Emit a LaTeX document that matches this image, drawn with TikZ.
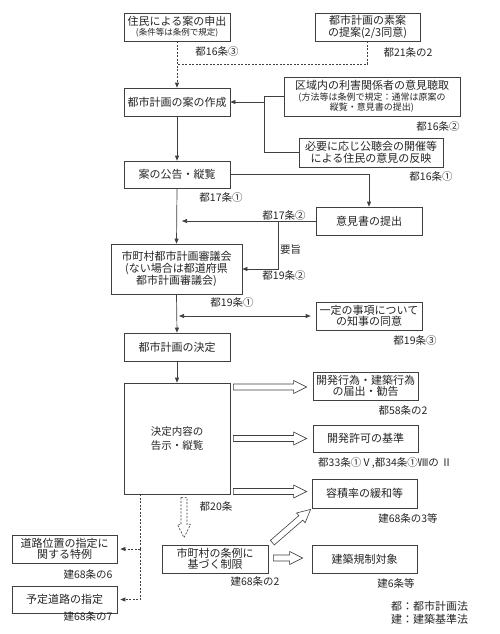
\documentclass[tikz,border=0pt]{standalone}
\usepackage{fontspec}
\setmainfont{Noto Sans CJK JP}
\usetikzlibrary{arrows.meta,calc}
\newcommand\harrow[3][]{%
  \draw[hollowarr,#1] let \p1=(#2), \p2=(#3),
    \n1={atan2(\y2-\y1,\x2-\x1)}, \n2={veclen(\x2-\x1,\y2-\y1)} in
    [shift={(\p1)}, rotate=\n1]
    (0pt,-3pt) -- ({\n2-13pt},-3pt) -- ({\n2-13pt},-6.5pt) -- ({\n2+0pt},0pt)
    -- ({\n2-13pt},6.5pt) -- ({\n2-13pt},3pt) -- (0pt,3pt) -- cycle;}
\begin{document}
\begin{tikzpicture}[x=1pt,y=-1pt,
  box/.style={draw=black!75, line width=0.7pt, fill=white, align=center, inner sep=1pt,
    text=black!85, font=\fontsize{11}{13}\selectfont},
  lbl/.style={font=\fontsize{10.5}{12}\selectfont, inner sep=0pt, text=black!85},
  ln/.style={draw=black!75, line width=0.7pt},
  arr/.style={ln, -{Triangle[length=5pt,width=4pt]}},
  dsh/.style={dash pattern=on 2pt off 1.5pt},
  hollowarr/.style={draw=black!75, line width=0.6pt, fill=white, line join=miter}]
\useasboundingbox[fill=white] (0,0) rectangle (500,634);

% boxes
\node[box, minimum width=106pt, minimum height=28pt] (b1) at (177,27)
  {住民による案の申出\\[-3pt]{\fontsize{8.5}{10}\selectfont (条件等は条例で規定)}};
\node[box, minimum width=105pt, minimum height=28pt] (b2) at (367.5,27)
  {都市計画の素案\\[-1pt]の提案(2/3同意)};
\node[box, minimum width=106pt, minimum height=28pt] (b3) at (177,102) {都市計画の案の作成};
\node[box, minimum width=176pt, minimum height=39pt] (b4) at (372,96.5)
  {区域内の利害関係者の意見聴取\\[-2pt]{\fontsize{9}{10}\selectfont (方法等は条例で規定：通常は原案の}\\[-3pt]{\fontsize{9}{10}\selectfont 縦覧・意見書の提出)}};
\node[box, minimum width=144pt, minimum height=29pt] (b5) at (371,152.5)
  {必要に応じ公聴会の開催等\\[-1pt]による住民の意見の反映};
\node[box, minimum width=106pt, minimum height=27pt] (b6) at (177,174.5) {案の公告・縦覧};
\node[box, minimum width=106pt, minimum height=28pt] (b7) at (369,221) {意見書の提出};
\node[box, minimum width=131pt, minimum height=50pt] (b8) at (176.5,269)
  {市町村都市計画審議会\\[-1pt](ない場合は都道府県\\[-1pt]都市計画審議会)};
\node[box, minimum width=106pt, minimum height=28pt] (b9) at (369,316)
  {一定の事項について\\[-2pt]の知事の同意};
\node[box, minimum width=106pt, minimum height=28pt] (b10) at (177,347) {都市計画の決定};
\node[box, minimum width=106pt, minimum height=111pt, font=\fontsize{10.5}{13}\selectfont] (b11) at (177,438.5)
  {決定内容の\\[1pt]告示・縦覧};
\node[box, minimum width=105pt, minimum height=28pt] (b12) at (365.5,386)
  {開発行為・建築行為\\[-2pt]の届出・勧告};
\node[box, minimum width=105pt, minimum height=27pt] (b13) at (365.5,438.5) {開発許可の基準};
\node[box, minimum width=105pt, minimum height=29pt] (b14) at (364.5,493.5) {容積率の緩和等};
\node[box, minimum width=105pt, minimum height=28pt] (b15) at (364.5,559) {建築規制対象};
\node[box, minimum width=106pt, minimum height=28pt] (b16) at (215,559)
  {市町村の条例に\\[-2pt]基づく制限};
\node[box, minimum width=105pt, minimum height=28pt] (b17) at (64.5,549)
  {道路位置の指定に\\[-2pt]関する特例};
\node[box, minimum width=105pt, minimum height=27pt] (b18) at (64.5,599.5) {予定道路の指定};

% labels
\node[lbl] (l1) at (217,52) {都16条③};
\node[lbl] (l2) at (408,52) {都21条の2};
\node[lbl] (l3) at (438,127) {都16条②};
\node[lbl] (l4) at (431,177) {都16条①};
\node[lbl] (l5) at (221,198) {都17条①};
\node[lbl] (l6) at (284,216) {都17条②};
\node[lbl, anchor=west] (l7) at (280,250) {要旨};
\node[lbl] (l8) at (284,276) {都19条②};
\node[lbl] (l9) at (232,303) {都19条①};
\node[lbl] (l10) at (415,341) {都19条③};
\node[lbl] (l11) at (403,410) {都58条の2};
\node[lbl] (l12) at (385,463) {都33条①Ⅴ,都34条①Ⅷの Ⅱ};
\node[lbl] (l13) at (408,518) {建68条の3等};
\node[lbl] (l14) at (396,583) {建6条等};
\node[lbl] (l15) at (216,506) {都20条};
\node[lbl] (l16) at (255,582) {建68条の2};
\node[lbl] (l17) at (88,575) {建68条の6};
\node[lbl] (l18) at (88,617) {建68条の7};
\node[lbl, anchor=west, font=\fontsize{11}{13}\selectfont] (lg1) at (391,606) {都：都市計画法};
\node[lbl, anchor=west, font=\fontsize{11}{13}\selectfont] (lg2) at (391,619) {建：建築基準法};

% junction coordinates
\coordinate (j0) at (177,64);
\coordinate (j1) at (264,102);
\coordinate (j2) at (182,221);
\coordinate (j3) at (278,221);
\coordinate (j4) at (179,316);
\coordinate (d0) at (140,494);

% top dashed connectors
\draw[arr,dsh] (b1.south) -- (b3.north);
\draw[ln,dsh] (b2.south) |- (j0);

% hearing / public meeting to draft
\draw[ln] (b4.west) -| (j1);
\draw[ln] (b5.west) -| (j1);
\draw[arr] (j1) -- (b3.east);

% main flow
\draw[arr] (b3.south) -- (b6.north);
\draw[arr] (b6.south) -- (b8.north);
\draw[arr] (b8.south) -- (b10.north);
\draw[arr] (b10.south) -- (b11.north);
\draw[arr] (b6.east) -| (b7.north);
\draw[arr] (b7.west) -- (j2);
\draw[arr] (j3) |- (b8.east);
\draw[ln, {Triangle[length=5pt,width=4pt]}-{Triangle[length=5pt,width=4pt]}] (j4) -- ($(b9.west)+(-5,0)$);

% dotted connectors to road items
\draw[ln,dsh] (d0) -- (b17.east -| d0);
\draw[arr,dsh] (b17.east -| d0) |- ($(b18.east)+(3,0)$);
\draw[arr,dsh] (b17.east -| d0) -- ($(b17.east)+(3,0)$);

% hollow arrows
\harrow{$(b11.east |- b12.west)+(3,1)$}{$(b12.west)+(-6,1)$}
\harrow{$(b11.east |- b13.west)+(3,0)$}{$(b13.west)+(-6,0)$}
\harrow{$(b11.east |- b14.west)+(3,-2)$}{$(b14.west)+(-5,-2)$}
\harrow{$(b16.east)+(5,-1)$}{$(b15.west)+(-9,-1)$}
\harrow{$(b16.north east)+(4,-2)$}{$(b14.south west)+(-1,1)$}
\harrow[dsh]{$(b11.south)+(7,3)$}{$(b11.south |- b16.north)+(7,-7)$}
\end{tikzpicture}
\end{document}
